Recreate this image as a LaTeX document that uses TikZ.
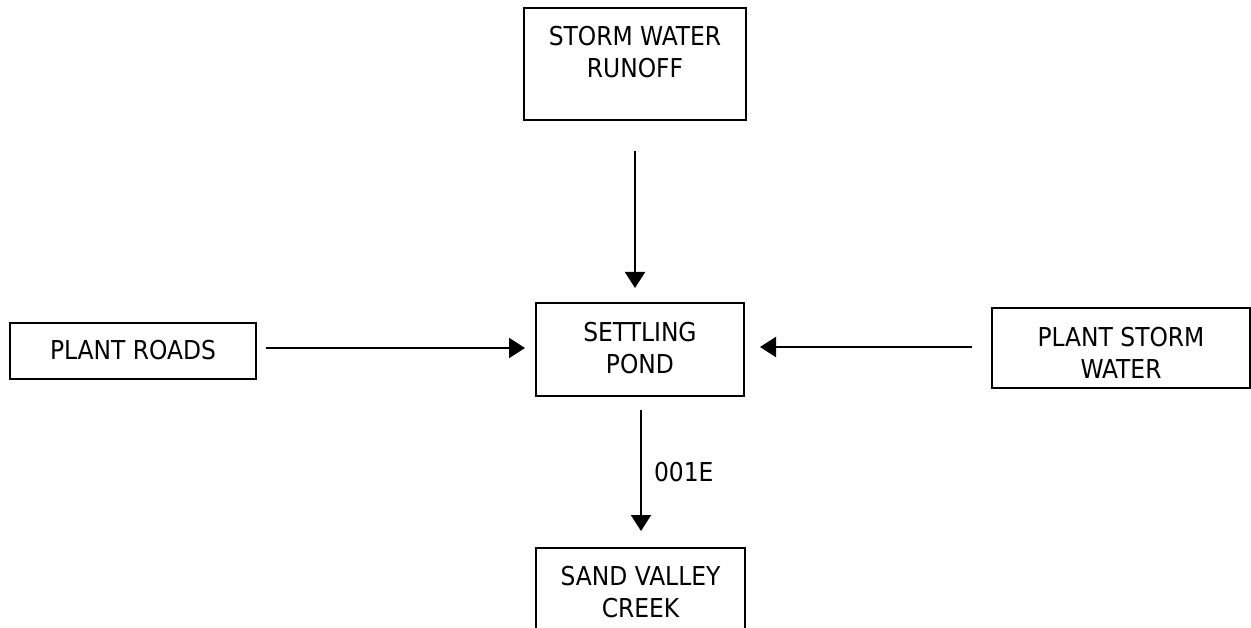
\documentclass[tikz,border=0pt]{standalone}
\usepackage{fontspec}
\setmainfont{DejaVu Sans Condensed}
\usetikzlibrary{arrows.meta}
\tikzset{
  box/.style={draw, line width=2pt, rectangle, inner sep=0pt},
  txt/.style={align=center, font=\fontsize{26}{32}\selectfont, inner sep=0pt},
  arr/.style={line width=2pt, -{Triangle[length=16pt,width=20pt]}}
}
\begin{document}
\begin{tikzpicture}[x=1pt,y=-1pt]
\useasboundingbox (0,0) rectangle (1251,628);
\clip (0,0) rectangle (1251,628);
% boxes
\node[box, minimum width=222pt, minimum height=112pt] (runoff) at (635,64) {};
\node[txt] (runofft) at (635,52.5) {STORM WATER\\RUNOFF};
\node[box, minimum width=208pt, minimum height=93pt] (pond) at (640,349.5) {};
\node[txt] (pondt) at (640,348) {SETTLING\\POND};
\node[box, minimum width=246pt, minimum height=56pt] (roads) at (133,351) {};
\node[txt] (roadst) at (133,350.5) {PLANT ROADS};
\node[box, minimum width=258pt, minimum height=80pt] (psw) at (1121,348) {};
\node[txt] (pswt) at (1121,352.5) {PLANT STORM\\WATER};
\node[box, minimum width=209pt, minimum height=160pt] (creek) at (640.5,628) {};
\node[txt] (creekt) at (640.5,592.5) {SAND VALLEY\\CREEK};
% arrows
\draw[arr, shorten <=30pt, shorten >=14pt] (runoff.south) -- (runoff.south |- pond.north);
\draw[arr, shorten <=9pt, shorten >=10pt] ([yshift=3pt]roads.east) -- ([yshift=3pt]roads.east -| pond.west);
\draw[arr, shorten <=19pt, shorten >=15pt] ([yshift=1pt]psw.west) -- ([yshift=1pt]psw.west -| pond.east);
\draw[arr, shorten <=13pt, shorten >=16pt] ([xshift=1pt]pond.south) -- node[right=12pt, txt] (lbl) {001E} ([xshift=1pt]pond.south |- creek.north);
\end{tikzpicture}
\end{document}
